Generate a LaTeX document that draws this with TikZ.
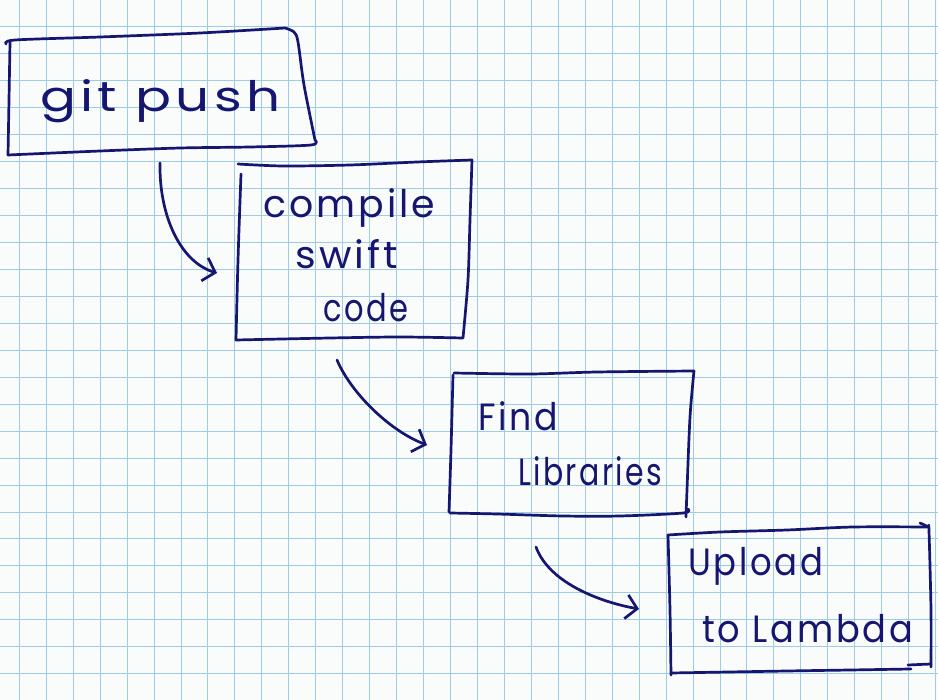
\documentclass[tikz,border=0pt]{standalone}
\usepackage{fontspec}
\setmainfont{Poppins}[LetterSpace=8]
\usepackage{graphicx}
\usetikzlibrary{arrows.meta}
\definecolor{paper}{RGB}{249,252,251}
\definecolor{gridc}{RGB}{158,203,230}
\definecolor{ink}{RGB}{22,22,112}
\newcommand\hw[2]{\resizebox{#1}{\height}{#2}}
\tikzset{
  gridline/.style={draw=gridc, line width=1pt},
  inkline/.style={draw=ink, line width=2.7pt, line cap=round, line join=round},
  hand/.style={anchor=base west, inner sep=0pt, text=ink, font=\fontsize{38}{38}\selectfont},
  handbig/.style={hand, font=\fontsize{42}{42}\selectfont},
  flow/.style={inkline, -{Straight Barb[length=11pt,width=24pt,line width=2.7pt]}}
}
\begin{document}
\begin{tikzpicture}[x=1pt,y=-1pt]
\fill[paper] (0,0) rectangle (938,700);
\useasboundingbox (0,0) rectangle (938,700);
% grid
\foreach \i in {0,...,34} \draw[gridline] ({19.3+26.95*\i},0) -- ({19.3+26.95*\i},700);
\foreach \j in {0,...,25} \draw[gridline] (0,{26.95*\j}) -- (938,{26.95*\j});

% box 1: git push
\draw[inkline] plot[smooth,tension=0.5] coordinates {(6,44) (15,40) (100,37) (200,33) (285,28)}
  -- plot[smooth,tension=0.5] coordinates {(285,28) (294,32) (298,42) (304,85) (315,140)}
  -- plot[smooth,tension=0.5] coordinates {(315,140) (311,145) (250,147) (180,148) (100,151) (8,155)};
\draw[inkline] plot[smooth,tension=0.5] coordinates {(10,42) (9,100) (8,155)};
\node[handbig] (t1) at (40,112) {\hw{240pt}{git push}};

% box 2: compile swift code
\draw[inkline] plot[smooth,tension=0.5] coordinates {(238,164) (283,166) (350,165) (417,162) (472,160)}
  -- plot[smooth,tension=0.5] coordinates {(472,160) (470,220) (468,280) (463,338)}
  -- plot[smooth,tension=0.5] coordinates {(463,338) (400,337) (330,338) (236,340)};
\draw[inkline] plot[smooth,tension=0.5] coordinates {(241,174) (238,260) (236,340)};
\node[hand] (t2a) at (263,218) {\hw{172pt}{compile}};
\node[hand] (t2b) at (295,269) {\hw{103pt}{swift}};
\node[hand] (t2c) at (323,322) {\hw{85pt}{code}};

% box 3: Find Libraries
\draw[inkline] plot[smooth,tension=0.5] coordinates {(454,373) (530,374) (597,372) (694,371)}
  -- plot[smooth,tension=0.5] coordinates {(694,371) (690,417) (687,490) (686,517)};
\draw[inkline] plot[smooth,tension=0.5] coordinates {(688,509) (683,513) (620,516) (563,516) (497,514) (450,513)};
\draw[inkline] plot[smooth,tension=0.5] coordinates {(453,375) (451,450) (449,512)};
\node[hand] (t3a) at (478,431) {\hw{80pt}{Find}};
\node[hand] (t3b) at (518,486) {\hw{144pt}{Libraries}};

% box 4: Upload to Lambda
\draw[inkline] plot[smooth,tension=0.5] coordinates {(668,535) (720,532) (787,530) (853,527) (927,527)};
\draw[inkline] plot[smooth,tension=0.5] coordinates {(920,523) (928,527) (929,531) (931,610) (931,667)};
\draw[inkline] plot[smooth,tension=0.5] coordinates {(908,665) (931,664)};
\draw[inkline] plot[smooth,tension=0.5] coordinates {(911,669) (850,670) (787,671) (671,673)};
\draw[inkline] plot[smooth,tension=0.5] coordinates {(668,535) (670,610) (671,675)};
\node[hand] (t4a) at (688,576) {\hw{135pt}{Upload}};
\node[hand] (t4b) at (702,643) {\hw{211pt}{to Lambda}};

% connectors
\coordinate (a1s) at (160,163); \coordinate (a1e) at (217,273);
\coordinate (a2s) at (337,360); \coordinate (a2e) at (427,445);
\coordinate (a3s) at (536,547); \coordinate (a3e) at (639,609);
\draw[flow] (a1s) .. controls (159,215) and (180,262) .. (a1e);
\draw[flow] (a2s) .. controls (352,395) and (392,432) .. (a2e);
\draw[flow] (a3s) .. controls (550,585) and (605,603) .. (a3e);
\end{tikzpicture}
\end{document}
